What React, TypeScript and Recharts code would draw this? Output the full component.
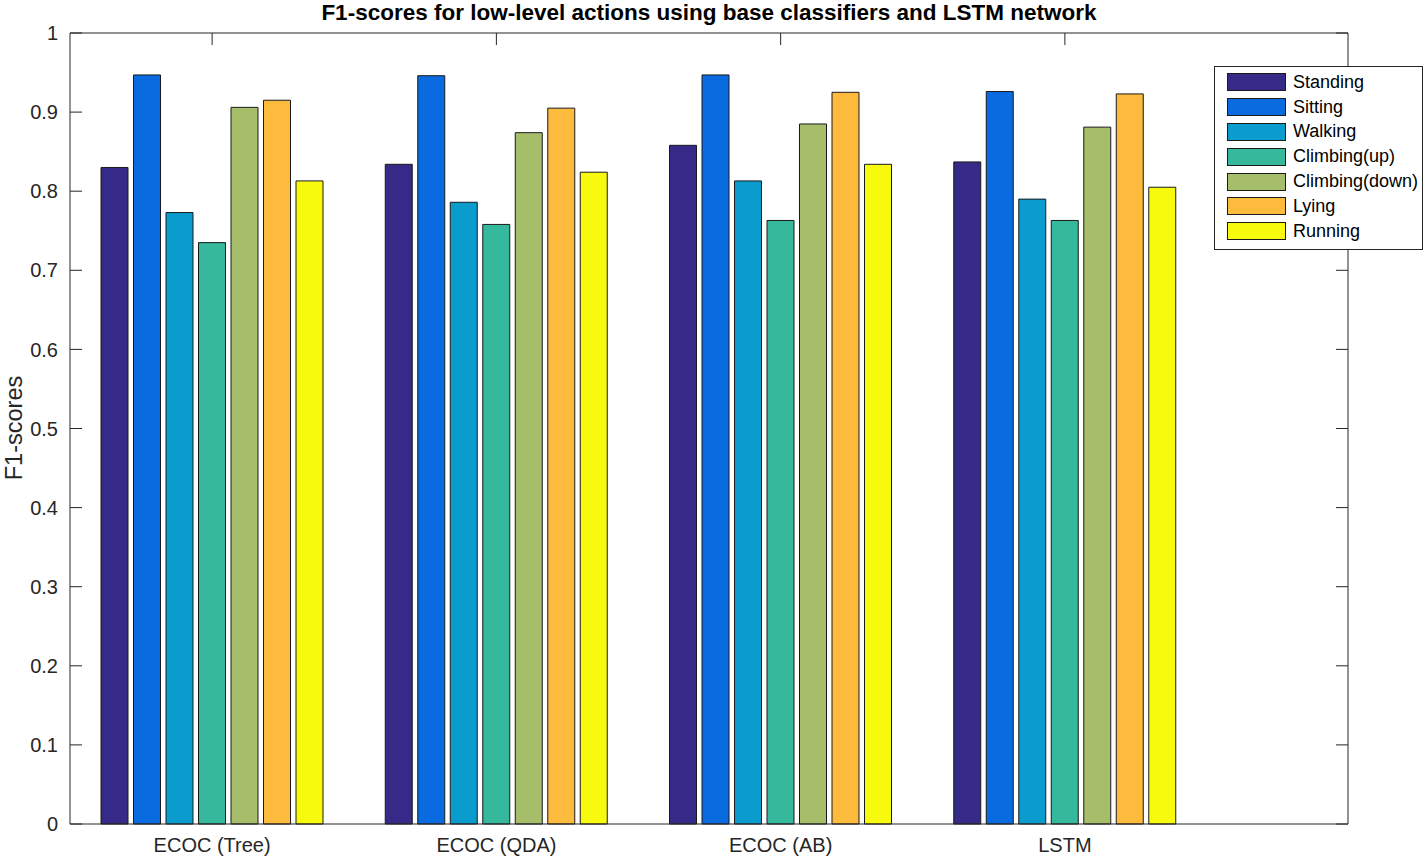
import { BarChart, Bar, XAxis, YAxis, Legend } from "recharts"

// F1-scores per classifier
const classifiers = ["ECOC (Tree)", "ECOC (QDA)", "ECOC (AB)", "LSTM"]
const standing = [0.83, 0.834, 0.858, 0.837]
const sitting = [0.947, 0.946, 0.947, 0.926]
const walking = [0.773, 0.786, 0.813, 0.79]
const climbingUp = [0.735, 0.758, 0.763, 0.763]
const climbingDown = [0.906, 0.874, 0.885, 0.881]
const lying = [0.915, 0.905, 0.925, 0.923]
const running = [0.813, 0.824, 0.834, 0.805]
const yTicks = [0, 0.1, 0.2, 0.3, 0.4, 0.5, 0.6, 0.7, 0.8, 0.9, 1]

const series = [
  { key: "standing", name: "Standing", values: standing, color: "#352a87" },
  { key: "sitting", name: "Sitting", values: sitting, color: "#0a6be0" },
  { key: "walking", name: "Walking", values: walking, color: "#0b9cce" },
  { key: "climbingUp", name: "Climbing(up)", values: climbingUp, color: "#36b89d" },
  { key: "climbingDown", name: "Climbing(down)", values: climbingDown, color: "#a6bd6a" },
  { key: "lying", name: "Lying", values: lying, color: "#fcbb3d" },
  { key: "running", name: "Running", values: running, color: "#f8fa0e" },
]

const data = classifiers.map((c, i) => {
  const row: Record<string, string | number> = { classifier: c }
  series.forEach((s) => {
    row[s.key] = s.values[i]
  })
  return row
})

const FONT = "Liberation Sans, Arial, Helvetica, sans-serif"
const AXIS = "#262626"

function LegendBox() {
  return (
    <div
      style={{
        width: 207,
        height: 179,
        border: `1px solid ${AXIS}`,
        background: "#fff",
        fontFamily: FONT,
        fontSize: 18,
        color: "#000",
        boxSizing: "content-box",
        paddingTop: 3,
      }}
    >
      {series.map((s) => (
        <div key={s.key} style={{ display: "flex", alignItems: "center", height: 24.8 }}>
          <div
            style={{
              width: 57,
              height: 16,
              marginLeft: 12,
              background: s.color,
              border: "1px solid #1a1a1a",
            }}
          />
          <span style={{ marginLeft: 7 }}>{s.name}</span>
        </div>
      ))}
    </div>
  )
}

export default function App() {
  return (
    <div style={{ position: "relative", width: 1428, height: 862, background: "#fff" }}>
      <style>{`body{margin:0}`}</style>
      <div
        style={{
          position: "absolute",
          top: 0,
          left: 70,
          width: 1278,
          textAlign: "center",
          fontFamily: FONT,
          fontWeight: "bold",
          fontSize: 22.5,
          lineHeight: "26px",
          color: "#000",
        }}
      >
        F1-scores for low-level actions using base classifiers and LSTM network
      </div>
      <div
        style={{
          position: "absolute",
          left: 14,
          top: 428,
          transform: "translate(-50%, -50%) rotate(-90deg)",
          fontFamily: FONT,
          fontSize: 23.5,
          color: AXIS,
          whiteSpace: "nowrap",
        }}
      >
        F1-scores
      </div>
      <BarChart
        width={1428}
        height={862}
        data={data}
        margin={{ top: 33, right: 80, left: 0, bottom: 0 }}
        barSize={27}
        barGap={5.5}
      >
        <XAxis
          dataKey="classifier"
          xAxisId="bottom"
          padding={{ left: 0, right: 141 }}
          tickLine={false}
          tickSize={0}
          tickMargin={14}
          axisLine={{ stroke: AXIS }}
          tick={{ fill: AXIS, fontSize: 20, fontFamily: FONT }}
          height={38}
        />
        <XAxis
          dataKey="classifier"
          xAxisId="top"
          orientation="top"
          mirror
          padding={{ left: 0, right: 141 }}
          tickSize={12}
          tickLine={{ stroke: AXIS }}
          axisLine={{ stroke: AXIS }}
          tickFormatter={() => ""}
        />
        <YAxis
          yAxisId="left"
          domain={[0, 1]}
          ticks={yTicks}
          width={70}
          tickSize={-12}
          tickMargin={24}
          tickLine={{ stroke: AXIS }}
          axisLine={{ stroke: AXIS }}
          tick={{ fill: AXIS, fontSize: 20, fontFamily: FONT }}
        />
        <YAxis
          yAxisId="right"
          type="number"
          orientation="right"
          domain={[0, 1]}
          allowDataOverflow
          ticks={yTicks}
          mirror
          tickSize={12}
          tickLine={{ stroke: AXIS }}
          axisLine={{ stroke: AXIS }}
          tickFormatter={() => ""}
        />
        <Legend
          layout="vertical"
          align="center"
          verticalAlign="middle"
          wrapperStyle={{ left: 1214, top: 66, width: "auto" }}
          content={() => <LegendBox />}
        />
        {series.map((s) => (
          <Bar
            key={s.key}
            dataKey={s.key}
            name={s.name}
            xAxisId="bottom"
            yAxisId="left"
            fill={s.color}
            stroke="#1a1a1a"
            strokeWidth={1}
            isAnimationActive={false}
          />
        ))}
      </BarChart>
    </div>
  )
}
